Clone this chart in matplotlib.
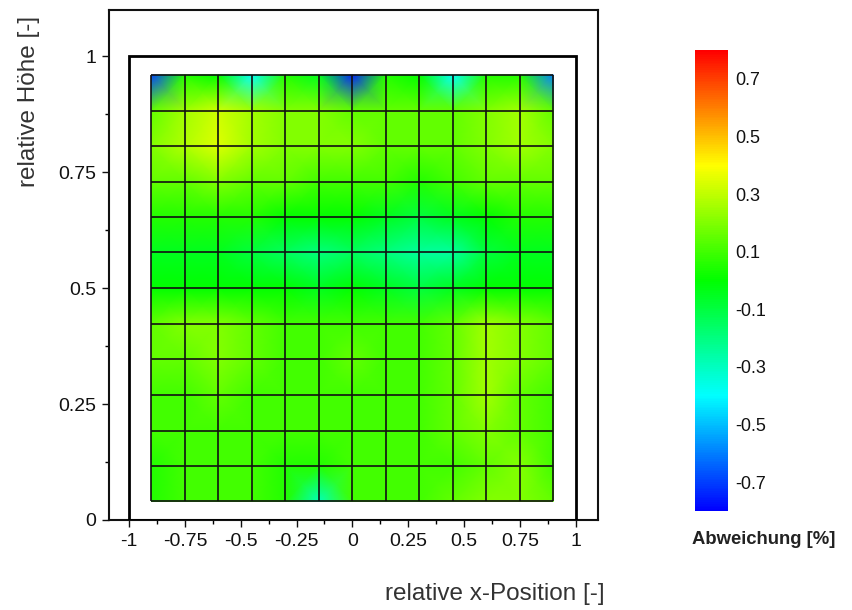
import numpy as np
import matplotlib
matplotlib.use("Agg")
import matplotlib.pyplot as plt
from matplotlib.colors import LinearSegmentedColormap, Normalize
from matplotlib.patches import Rectangle
from matplotlib.ticker import MultipleLocator, FixedLocator

plt.rcParams['font.family'] = ['Liberation Sans', 'DejaVu Sans']

# node coordinates of the measurement grid
x_nodes = [-0.9, -0.75, -0.6, -0.45, -0.3, -0.15, 0.0, 0.15, 0.3, 0.45, 0.6, 0.75, 0.9]
y_nodes = [0.96, 0.883, 0.807, 0.73, 0.653, 0.577, 0.5, 0.423, 0.347, 0.27, 0.193, 0.117, 0.04]

# deviation values [%] at the nodes (rows top -> bottom)
dev_row00 = [-0.70, 0.05, 0.00, -0.40, 0.05, -0.05, -0.75, 0.05, 0.00, -0.40, 0.05, 0.05, -0.60]
dev_row01 = [0.15, 0.25, 0.32, 0.25, 0.20, 0.20, 0.15, 0.15, 0.15, 0.15, 0.20, 0.25, 0.15]
dev_row02 = [0.20, 0.28, 0.35, 0.25, 0.20, 0.20, 0.20, 0.15, 0.15, 0.15, 0.20, 0.25, 0.20]
dev_row03 = [0.15, 0.15, 0.20, 0.15, 0.15, 0.10, 0.10, 0.10, 0.05, 0.10, 0.15, 0.15, 0.15]
dev_row04 = [0.05, 0.05, 0.05, 0.05, 0.00, 0.00, 0.00, -0.05, -0.10, -0.05, 0.00, 0.05, 0.05]
dev_row05 = [-0.05, -0.05, -0.05, -0.10, -0.15, -0.20, -0.15, -0.20, -0.25, -0.25, -0.10, -0.05, -0.05]
dev_row06 = [0.00, 0.00, 0.00, 0.00, 0.00, -0.05, 0.00, -0.05, -0.10, -0.05, 0.00, 0.00, 0.00]
dev_row07 = [0.15, 0.20, 0.20, 0.15, 0.10, 0.10, 0.10, 0.10, 0.10, 0.15, 0.25, 0.20, 0.15]
dev_row08 = [0.15, 0.15, 0.20, 0.15, 0.10, 0.10, 0.15, 0.10, 0.10, 0.15, 0.25, 0.20, 0.15]
dev_row09 = [0.10, 0.10, 0.15, 0.10, 0.10, 0.10, 0.10, 0.10, 0.10, 0.15, 0.25, 0.15, 0.10]
dev_row10 = [0.10, 0.10, 0.10, 0.10, 0.10, 0.10, 0.10, 0.10, 0.10, 0.15, 0.20, 0.15, 0.10]
dev_row11 = [0.05, 0.10, 0.10, 0.10, 0.05, 0.05, 0.10, 0.10, 0.10, 0.10, 0.15, 0.20, 0.10]
dev_row12 = [0.05, 0.10, 0.10, 0.10, 0.05, -0.30, 0.10, 0.10, 0.10, 0.15, 0.20, 0.20, 0.15]

x_ticks = [-1, -0.75, -0.5, -0.25, 0, 0.25, 0.5, 0.75, 1]
x_ticklabels = ["-1", "-0.75", "-0.5", "-0.25", "0", "0.25", "0.5", "0.75", "1"]
y_ticks = [0, 0.25, 0.5, 0.75, 1]
y_ticklabels = ["0", "0.25", "0.5", "0.75", "1"]
cbar_ticks = [-0.7, -0.5, -0.3, -0.1, 0.1, 0.3, 0.5, 0.7]
cbar_ticklabels = ["-0.7", "-0.5", "-0.3", "-0.1", "0.1", "0.3", "0.5", "0.7"]

Z = np.array([dev_row00, dev_row01, dev_row02, dev_row03, dev_row04, dev_row05, dev_row06,
              dev_row07, dev_row08, dev_row09, dev_row10, dev_row11, dev_row12])
X, Y = np.meshgrid(x_nodes, y_nodes)

cmap = LinearSegmentedColormap.from_list(
    "rainbow5", ["#0000ff", "#00ffff", "#00ff00", "#ffff00", "#ff0000"])
norm = Normalize(vmin=-0.8, vmax=0.8)

W, H = 852, 610
fig = plt.figure(figsize=(W / 100, H / 100), dpi=100)
ax = fig.add_axes([109 / W, (H - 520) / H, (598 - 109) / W, 510 / H])

mesh = ax.pcolormesh(X, Y, Z, cmap=cmap, norm=norm, shading='gouraud', zorder=1)

# cell grid lines
ax.vlines(x_nodes, min(y_nodes), max(y_nodes), colors='#111111', linewidth=1.2, zorder=3)
ax.hlines(y_nodes, min(x_nodes), max(x_nodes), colors='#111111', linewidth=1.2, zorder=3)

# outer boundary rectangle
ax.add_patch(Rectangle((-1, 0), 2, 1, fill=False, edgecolor='black', linewidth=2.0, zorder=4))

ax.set_xlim(-1.09, 1.1)
ax.set_ylim(0, 1.1)

ax.xaxis.set_major_locator(FixedLocator(x_ticks))
ax.set_xticklabels(x_ticklabels)
ax.yaxis.set_major_locator(FixedLocator(y_ticks))
ax.set_yticklabels(y_ticklabels)
ax.xaxis.set_minor_locator(MultipleLocator(0.125))
ax.yaxis.set_minor_locator(MultipleLocator(0.125))
ax.tick_params(which='major', direction='out', length=5, width=1.0, labelsize=14,
               colors='#111111', pad=4)
ax.tick_params(which='minor', direction='out', length=3, width=1.0)
for s in ax.spines.values():
    s.set_linewidth(1.5)
    s.set_color('#111111')

fig.text(29 / W, 1 - 101 / H, "relative Höhe [-]", rotation=90, ha='center', va='center',
         fontsize=17.5, color='#333333')
fig.text(495 / W, 1 - 594 / H, "relative x-Position [-]", ha='center', va='center',
         fontsize=17.5, color='#333333')

# colorbar
cax = fig.add_axes([695 / W, (H - 511) / H, 33 / W, 461 / H])
cb = fig.colorbar(mesh, cax=cax, ticks=cbar_ticks)
cb.outline.set_visible(False)
cb.ax.set_yticklabels(cbar_ticklabels)
cb.ax.tick_params(length=0, labelsize=13, pad=5, colors='#111111')
fig.text(764 / W, 1 - 540 / H, "Abweichung [%]", ha='center', va='center',
         fontsize=13.3, fontweight='bold', color='#222222')

fig.savefig("out.png", dpi=100)
